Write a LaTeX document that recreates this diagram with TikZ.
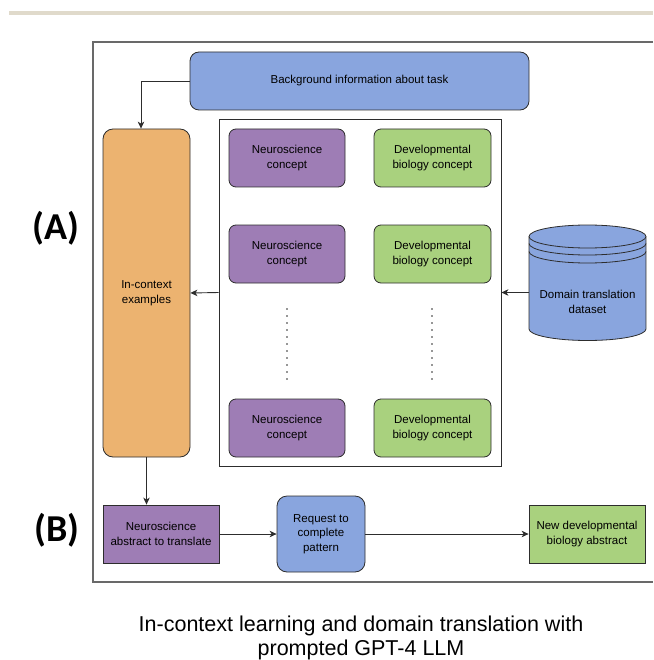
\documentclass[tikz,border=0pt]{standalone}
\usepackage{fontspec}
\setmainfont{Liberation Sans}
\newfontfamily\partfont{Carlito}
\usepackage{tikz}
\usetikzlibrary{arrows,arrows.meta,positioning}

\definecolor{taskblue}{RGB}{137,165,222}
\definecolor{neuropurple}{RGB}{158,125,181}
\definecolor{devgreen}{RGB}{169,209,126}
\definecolor{ctxorange}{RGB}{236,179,112}
\definecolor{edgegray}{RGB}{45,45,45}
\definecolor{framegray}{RGB}{105,105,105}
\definecolor{barbeige}{RGB}{224,218,203}

\begin{document}
\begin{tikzpicture}[x=1pt,y=-1pt,
    box/.style={draw=edgegray,line width=0.8pt,rounded corners=7pt,align=center,
      inner sep=0pt,font=\fontsize{11.5}{14.5}\selectfont},
    neuro/.style={box,fill=neuropurple,minimum width=116pt,minimum height=58pt},
    devbio/.style={box,fill=devgreen,minimum width=117pt,minimum height=58pt},
    flow/.style={-{Stealth[length=7pt,width=6.5pt,inset=2pt]},line width=0.9pt,draw=edgegray},
    partlabel/.style={font=\partfont\bfseries\fontsize{38}{40}\selectfont}
  ]
      \useasboundingbox (0,0) rectangle (653,660);
      \fill[barbeige] (9,11) rectangle (653,15);
      \draw[framegray,line width=1.3pt] (653,42) -- (93,42) -- (93,582) -- (653,582);

      \node[partlabel] (partA) at (56,228) {(A)};
      \node[partlabel] (partB) at (57,530) {(B)};

      \node[box,fill=taskblue,minimum width=339pt,minimum height=58pt,rounded corners=9pt] (task) at (359.5,81) {Background information about task};
      \node[box,fill=ctxorange,minimum width=87pt,minimum height=328pt,rounded corners=10pt] (ctx) at (146.5,293) {In-context\\examples};
      \node[draw=edgegray,line width=0.8pt,minimum width=282pt,minimum height=347pt] (pairs) at (360,292.5) {};

      \node[neuro] (n1) at (287,158) {Neuroscience\\concept};
      \node[devbio] (d1) at (432.5,158) {Developmental\\biology concept};
      \node[neuro] (n2) at (287,254) {Neuroscience\\concept};
      \node[devbio] (d2) at (432.5,254) {Developmental\\biology concept};
      \node[neuro] (n3) at (287,428) {Neuroscience\\concept};
      \node[devbio] (d3) at (432.5,428) {Developmental\\biology concept};

      % dots between the rows
      \foreach \x in {287,432}
        \draw[edgegray,line width=1.7pt,line cap=round,dash pattern=on 0pt off 7pt] (\x,309) -- (\x,380);

      % the data store
      \fill[taskblue] (529,236.5) rectangle (646,329);
      \fill[taskblue] (587.5,329) ellipse (58.5 and 11.5);
      \draw[edgegray,line width=0.8pt] (529,236.5) -- (529,329)
        arc[start angle=180,end angle=0,x radius=58.5,y radius=11.5] -- (646,236.5);
      \filldraw[fill=taskblue,draw=edgegray,line width=0.8pt] (587.5,236.5) ellipse (58.5 and 11.5);
      \foreach \dy in {7,15}
        \draw[edgegray,line width=0.8pt] (529,236.5+\dy) arc[start angle=180,end angle=0,x radius=58.5,y radius=11.5];
      \node[align=center,font=\fontsize{11.5}{14.5}\selectfont,minimum width=117pt,inner sep=0pt] (data) at (587.5,302) {Domain translation\\dataset};

      \node[box,rounded corners=0pt,fill=neuropurple,minimum width=116pt,minimum height=58pt] (abs) at (161,534) {Neuroscience\\abstract to translate};
      \node[box,fill=taskblue,minimum width=88pt,minimum height=76pt,rounded corners=10pt] (req) at (321,534) {Request to\\complete\\pattern};
      \node[box,rounded corners=0pt,fill=devgreen,minimum width=116pt,minimum height=58pt] (newabs) at (587,534) {New developmental\\biology abstract};

      \draw[flow] (task.west) -| ([xshift=-5.5pt]ctx.north);
      \draw[flow] (pairs.west) -- (ctx.east);
      \draw[flow] (data.west |- pairs.east) -- (pairs.east);
      \draw[flow] (ctx.south) -- (ctx.south |- abs.north);
      \draw[flow] (abs) -- (req);
      \draw[flow] (req) -- (newabs);

      \node[align=center,font=\fontsize{21.5}{24}\selectfont] (title) at (361,638) {In-context learning and domain translation with\\prompted GPT-4 LLM};
\end{tikzpicture}
\end{document}
